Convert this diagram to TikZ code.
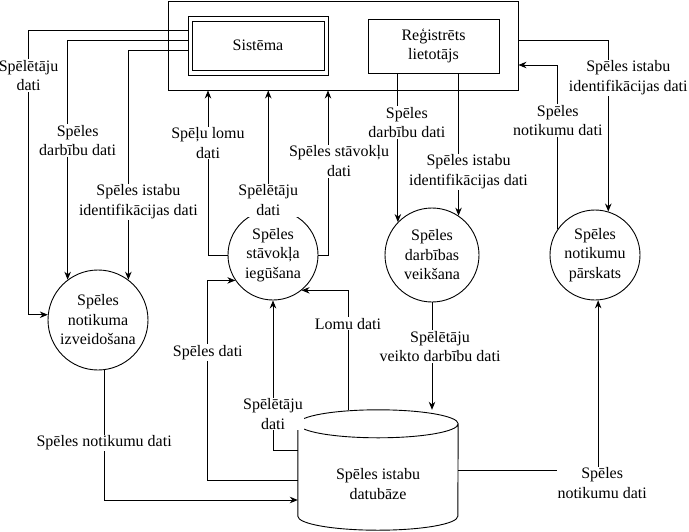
\documentclass[tikz,border=0pt]{standalone}
\usepackage{fontspec}
\setmainfont{Liberation Serif}
\usetikzlibrary{arrows.meta}
\newcommand{\dfdsize}{\rmfamily\fontsize{16pt}{19.5pt}\selectfont}
\tikzset{
  ent/.style={draw,line width=0.9pt,align=center,font=\dfdsize,inner sep=2pt},
  proc/.style={circle,draw,line width=0.9pt,align=center,font=\dfdsize,inner sep=0pt},
  dstore/.style={draw=none,minimum width=160pt,minimum height=120pt,inner sep=0pt},
  flow/.style={line width=0.9pt},
  arr/.style={-{Stealth[length=8pt,width=6.5pt]},line width=0.9pt},
  lbl/.style={fill=white,inner sep=1pt,align=center,font=\dfdsize},
}
\begin{document}
\begin{tikzpicture}[x=1pt,y=-1pt]
  \useasboundingbox (0,0) rectangle (689,531);
  \node[ent,minimum width=350pt,minimum height=89pt] (sysbox) at (343,45.5) {};
  \node[ent,minimum width=140pt,minimum height=59pt] (sys) at (258,45.5) {Sistēma};
  \draw[flow] ([shift={(5pt,-5.5pt)}]sys.north west) rectangle ([shift={(-4.5pt,5pt)}]sys.south east);
  \node[ent,minimum width=131pt,minimum height=54pt] (reg) at (433.5,46) {Reģistrēts\\lietotājs};
  \node[proc,minimum size=100pt] (izv) at (98,320) {Spēles\\notikuma\\izveidošana};
  \node[proc,minimum size=90pt] (stv) at (273,255) {Spēles\\stāvokļa\\iegūšana};
  \node[proc,minimum size=94pt] (dar) at (432,255) {Spēles\\darbības\\veikšana};
  \node[proc,minimum size=90pt] (par) at (595,255) {Spēles\\notikumu\\pārskats};
  \node[dstore,label={[align=center,font=\dfdsize,yshift=-14pt]center:Spēles istabu\\datubāze}] (db) at (378,470) {};
  \draw[flow] ([yshift=-14pt]db.north west) -- ([yshift=14pt]db.south west)
    arc[start angle=180,end angle=360,x radius=80pt,y radius=14pt]
    -- ([yshift=-14pt]db.north east)
    arc[start angle=0,end angle=180,x radius=80pt,y radius=14pt]
    arc[start angle=180,end angle=360,x radius=80pt,y radius=14pt];
  \draw[arr] ([yshift=15.5pt]sys.west) -- ++(-159,0) |- node[lbl,pos=0.08]{Spēlētāju\\dati} (izv.174);
  \draw[arr] ([yshift=5.5pt]sys.west) -| node[lbl,pos=0.71,xshift=10pt]{Spēles\\darbību dati} (izv.127);
  \draw[arr] ([yshift=-4.5pt]sys.west) -| node[lbl,pos=0.83,xshift=10pt]{Spēles istabu\\identifikācijas dati} (izv.53);
  \draw[arr] (izv.-83) |- node[lbl,pos=0.28]{Spēles notikumu dati} ([yshift=-30pt]db.west);
  \draw[arr] (stv.west) -| node[lbl,pos=0.84]{Spēļu lomu\\dati} ([xshift=-135pt]sysbox.south);
  \draw[arr] (stv.96) -- node[lbl,pos=0.08]{Spēlētāju\\dati} (stv.96 |- sysbox.south);
  \draw[arr] (stv.east) -| node[lbl,pos=0.785,xshift=11pt]{Spēles stāvokļu\\dati} ([xshift=-15pt]sysbox.south);
  \draw[arr] ([yshift=-10pt]db.west) -- ++(-90,0) |- node[lbl,pos=0.32]{Spēles dati} (stv.214);
  \draw[arr] ([yshift=20pt]db.west) -| node[lbl,pos=0.62]{Spēlētāju\\dati} (stv.south);
  \draw[arr] ([xshift=-30pt]db.north) |- node[lbl,pos=0.36]{Lomu dati} (stv.-51);
  \draw[arr] (dar.136 |- reg.south) -- node[lbl,pos=0.33,xshift=9pt]{Spēles\\darbību dati} (dar.136);
  \draw[arr] (dar.56 |- reg.south) -- node[lbl,pos=0.69,xshift=10pt]{Spēles istabu\\identifikācijas dati} (dar.56);
  \draw[arr] (dar.south) -- node[lbl,pos=0.41,xshift=8pt]{Spēlētāju\\veikto darbību dati} (dar.south |- db.north);
  \draw[arr] ([yshift=5.5pt]sysbox.east) -| node[lbl,pos=0.61,xshift=20pt]{Spēles istabu\\identifikācijas dati} (par.73);
  \draw[arr] (par.145) |- node[lbl,pos=0.33]{Spēles\\notikumu dati} ([yshift=-19.5pt]sysbox.east);
  \draw[arr] (db.east) -| node[lbl,pos=0.5,xshift=4pt,yshift=-13pt]{Spēles\\notikumu dati} (par.-86);
\end{tikzpicture}
\end{document}
